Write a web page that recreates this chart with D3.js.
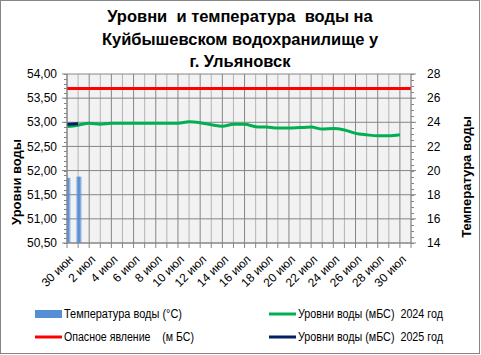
<!DOCTYPE html>
<html><head><meta charset="utf-8">
<script src="https://cdn.jsdelivr.net/npm/d3@7"></script>
<style>body{margin:0;background:#fff}svg{display:block;font-family:"Liberation Sans",Arial,sans-serif}</style>
</head><body>
<script>
const dates = ["30 июн","1 июл","2 июл","3 июл","4 июл","5 июл","6 июл","7 июл","8 июл","9 июл","10 июл","11 июл","12 июл","13 июл","14 июл","15 июл","16 июл","17 июл","18 июл","19 июл","20 июл","21 июл","22 июл","23 июл","24 июл","25 июл","26 июл","27 июл","28 июл","29 июл","30 июл","31 июл"];
const level2024 = [52.91,52.94,52.98,52.96,52.98,52.98,52.98,52.98,52.98,52.98,52.98,53.01,52.99,52.95,52.92,52.96,52.96,52.91,52.90,52.88,52.88,52.89,52.90,52.86,52.87,52.84,52.77,52.74,52.72,52.72,52.74,null];
const level2025 = [52.96,52.97];
const dangerLevel = 53.70;
const temperature = [19.4,19.5];
const leftTicks = [50.5,51,51.5,52,52.5,53,53.5,54];
const rightTicks = [14,16,18,20,22,24,26,28];
const titleLines = ["Уровни  и температура  воды на","Куйбышевском водохранилище у","г. Ульяновск"];

const W=481,H=355;
const svg=d3.select("body").append("svg").attr("width",W).attr("height",H);
svg.append("rect").attr("x",0.5).attr("y",0.5).attr("width",W-2).attr("height",H-2).attr("fill","#fff").attr("stroke","#868686");

const L=67,R=411,T=74,B=243;
const x=d3.scalePoint().domain(dates).range([L,R]);
const y=d3.scaleLinear().domain([50.5,54]).range([B,T]);
const y2=d3.scaleLinear().domain([14,28]).range([B,T]);

// title
svg.append("g").selectAll("text").data(titleLines).join("text")
  .attr("x",240).attr("y",(d,i)=>22+i*22.5).attr("text-anchor","middle")
  .attr("font-size",16.5).attr("font-weight","bold").attr("xml:space","preserve").text(d=>d);

// plot bg
svg.append("rect").attr("x",L).attr("y",T).attr("width",R-L).attr("height",B-T).attr("fill","#f2f2f2");
const defs=svg.append("defs");
defs.append("clipPath").attr("id","clip").append("rect").attr("x",L).attr("y",T).attr("width",R-L).attr("height",B-T);

// vertical grid
svg.append("g").selectAll("line").data(dates).join("line")
  .attr("x1",d=>x(d)).attr("x2",d=>x(d)).attr("y1",T).attr("y2",B)
  .attr("stroke",(d,i)=>i%2===0?"#868686":"#b4b4b4").attr("stroke-width",1);
// horizontal grid
svg.append("g").selectAll("line").data(leftTicks).join("line")
  .attr("x1",L).attr("x2",R).attr("y1",d=>y(d)).attr("y2",d=>y(d))
  .attr("stroke","#868686");

// bars
const grad=defs.append("linearGradient").attr("id","bg").attr("x1","0").attr("x2","1").attr("y1","0").attr("y2","0");
grad.append("stop").attr("offset","0").attr("stop-color","#558ed5").attr("stop-opacity",0.0);
grad.append("stop").attr("offset","0.38").attr("stop-color","#558ed5").attr("stop-opacity",0.95);
grad.append("stop").attr("offset","0.62").attr("stop-color","#558ed5").attr("stop-opacity",0.95);
grad.append("stop").attr("offset","1").attr("stop-color","#558ed5").attr("stop-opacity",0.0);
const bw=7;
svg.append("g").attr("clip-path","url(#clip)").selectAll("rect").data(temperature).join("rect")
  .attr("x",(d,i)=>x(dates[i])-bw/2+0.8).attr("width",bw)
  .attr("y",d=>y2(d)).attr("height",d=>B-y2(d)).attr("fill","url(#bg)");

// danger line
svg.append("line").attr("x1",L).attr("x2",R).attr("y1",y(dangerLevel)).attr("y2",y(dangerLevel))
  .attr("stroke","#ff0000").attr("stroke-width",3);

const line=d3.line().defined(d=>d!=null).x((d,i)=>x(dates[i])).y(d=>y(d)).curve(d3.curveMonotoneX);
svg.append("path").datum(level2024).attr("d",line).attr("fill","none").attr("stroke","#00b050").attr("stroke-width",3).attr("stroke-linejoin","round");
svg.append("path").datum(level2025).attr("d",line).attr("fill","none").attr("stroke","#002060").attr("stroke-width",3);

// axes lines
const ax=svg.append("g").attr("stroke","#868686").attr("fill","none");
ax.append("line").attr("x1",L).attr("x2",L).attr("y1",T).attr("y2",B);
ax.append("line").attr("x1",R).attr("x2",R).attr("y1",T).attr("y2",B);
ax.append("line").attr("x1",L).attr("x2",R).attr("y1",B).attr("y2",B);
// left ticks
const leftMinor=d3.range(50.5,54.001,0.1);
ax.selectAll(".lm").data(leftMinor).join("line").attr("x1",L-3).attr("x2",L).attr("y1",d=>Math.round(y(d))+0.5).attr("y2",d=>Math.round(y(d))+0.5);
ax.selectAll(".lM").data(leftTicks).join("line").attr("x1",L-5).attr("x2",L).attr("y1",d=>y(d)).attr("y2",d=>y(d));
const rightMinor=d3.range(14,28.001,0.5);
ax.selectAll(".rm").data(rightMinor).join("line").attr("x1",R).attr("x2",R+3).attr("y1",d=>Math.round(y2(d))+0.5).attr("y2",d=>Math.round(y2(d))+0.5);
ax.selectAll(".rM").data(rightTicks).join("line").attr("x1",R).attr("x2",R+5).attr("y1",d=>y2(d)).attr("y2",d=>y2(d));
ax.selectAll(".bt").data(dates).join("line").attr("x1",d=>x(d)).attr("x2",d=>x(d)).attr("y1",B).attr("y2",B+5);

// tick labels
const fmt=d=>d.toFixed(2).replace(".",",");
svg.append("g").selectAll("text").data(leftTicks).join("text")
  .attr("x",57).attr("y",d=>y(d)).attr("dy","0.35em").attr("text-anchor","end").attr("font-size",12).text(fmt);
svg.append("g").selectAll("text").data(rightTicks).join("text")
  .attr("x",427).attr("y",d=>y2(d)).attr("dy","0.35em").attr("font-size",12).text(d=>d);
svg.append("g").selectAll("text").data(dates.filter((d,i)=>i%2===0)).join("text")
  .attr("transform",d=>`translate(${x(d)+4},${B+14}) rotate(-45)`).attr("text-anchor","end").attr("dy","0.35em")
  .attr("font-size",12).text(d=>d);

// axis titles
svg.append("text").attr("transform","translate(21,182) rotate(-90)").attr("text-anchor","middle").attr("font-size",13).attr("font-weight","bold").text("Уровни воды");
svg.append("text").attr("transform","translate(471,177) rotate(-90)").attr("text-anchor","middle").attr("font-size",13).attr("font-weight","bold").text("Температура воды");

// legend
const leg=svg.append("g").attr("font-size",12);
const legText=(xx,yy,t,len)=>leg.append("text").attr("x",xx).attr("y",yy).attr("dy","0.35em")
  .attr("xml:space","preserve").attr("textLength",len).attr("lengthAdjust","spacingAndGlyphs").text(t);
leg.append("rect").attr("x",35).attr("y",310).attr("width",27).attr("height",8).attr("fill","#558ed5");
legText(64,314,"Температура воды (°C)",118);
leg.append("line").attr("x1",269).attr("x2",296).attr("y1",314).attr("y2",314).attr("stroke","#00b050").attr("stroke-width",3);
legText(298,314,"Уровни воды (мБС)  2024 год",145);
leg.append("line").attr("x1",35).attr("x2",62).attr("y1",337).attr("y2",337).attr("stroke","#ff0000").attr("stroke-width",3);
legText(64,337,"Опасное явление    (м БС)",130);
leg.append("line").attr("x1",269).attr("x2",296).attr("y1",337).attr("y2",337).attr("stroke","#002060").attr("stroke-width",3);
legText(298,337,"Уровни воды (мБС)  2025 год",145);
</script>
</body></html>
